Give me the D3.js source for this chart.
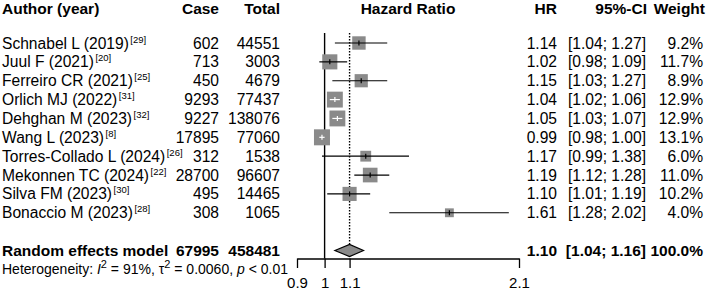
<!DOCTYPE html>
<html><head><meta charset="utf-8">
<script src="https://cdn.jsdelivr.net/npm/d3@7"></script>
<style>body{margin:0;background:#fff}svg{display:block}text{font-family:"Liberation Sans",Arial,sans-serif}</style>
</head><body>
<svg id="c" width="708" height="295"></svg>
<script>
const authors = ["Schnabel L (2019)","Juul F (2021)","Ferreiro CR (2021)","Orlich MJ (2022)","Dehghan M (2023)","Wang L (2023)","Torres-Collado L (2024)","Mekonnen TC (2024)","Silva FM (2023)","Bonaccio M (2023)"];
const refs = ["[29]","[20]","[25]","[31]","[32]","[8]","[26]","[22]","[30]","[28]"];
const cases = [602,713,450,9293,9227,17895,312,28700,495,308];
const totals = [44551,3003,4679,77437,138076,77060,1538,96607,14465,1065];
const hr = [1.14,1.02,1.15,1.04,1.05,0.99,1.17,1.19,1.10,1.61];
const lower = [1.04,0.98,1.03,1.02,1.03,0.98,0.99,1.12,1.01,1.28];
const upper = [1.27,1.09,1.27,1.06,1.07,1.00,1.38,1.28,1.19,2.02];
const weights = [9.2,11.7,8.9,12.9,12.9,13.1,6.0,11.0,10.2,4.0];
const pooled = {label:"Random effects model", cases:67995, total:458481, hr:1.10, lo:1.04, hi:1.16, weight:100.0};
const ticks = [0.9,1,1.1,2.1];

const svg = d3.select("#c");
const x = d3.scaleLog().domain([0.9,2.1]).range([297,519]);
const y = d3.scaleLinear().domain([0,11]).range([43,250.5]);
const side = d3.scaleSqrt().domain([0,13.1]).range([0,16]);
const F = 15.6, FB = 15.5;
const gray = "#8a8a8a";

// header
const hdr = svg.append("g").attr("font-weight","bold").attr("font-size",FB);
const hy = 13.5;
hdr.append("text").attr("x",2).attr("y",hy).text("Author (year)");
hdr.append("text").attr("x",219).attr("y",hy).attr("text-anchor","end").text("Case");
hdr.append("text").attr("x",280).attr("y",hy).attr("text-anchor","end").text("Total");
hdr.append("text").attr("x",(x(0.9)+x(2.1))/2).attr("y",hy).attr("text-anchor","middle").text("Hazard Ratio");
hdr.append("text").attr("x",557).attr("y",hy).attr("text-anchor","end").text("HR");
hdr.append("text").attr("x",647).attr("y",hy).attr("text-anchor","end").text("95%-CI");
hdr.append("text").attr("x",705).attr("y",hy).attr("text-anchor","end").text("Weight");

// reference lines
svg.append("line").attr("x1",x(1)).attr("x2",x(1)).attr("y1",33).attr("y2",258.5).attr("stroke","#000").attr("stroke-width",1.4);
svg.append("line").attr("x1",x(pooled.hr)).attr("x2",x(pooled.hr)).attr("y1",33).attr("y2",y(11)-6).attr("stroke","#000").attr("stroke-width",1.4).attr("stroke-dasharray","1.4,1.6");

const fmt2 = d3.format(".2f");
authors.forEach((a,i)=>{
  const cy = y(i), ty = cy+5.5;
  const t = svg.append("text").attr("x",2).attr("y",ty).attr("font-size",F);
  t.append("tspan").text(a);
  t.append("tspan").attr("font-size",9.5).attr("dx",1.5).attr("dy",-6).text(refs[i]);
  svg.append("text").attr("x",219).attr("y",ty).attr("font-size",F).attr("text-anchor","end").text(cases[i]);
  svg.append("text").attr("x",280).attr("y",ty).attr("font-size",F).attr("text-anchor","end").text(totals[i]);
  svg.append("text").attr("x",557).attr("y",ty).attr("font-size",F).attr("text-anchor","end").text(fmt2(hr[i]));
  svg.append("text").attr("x",646).attr("y",ty).attr("font-size",F).attr("text-anchor","end").text(`[${fmt2(lower[i])}; ${fmt2(upper[i])}]`);
  svg.append("text").attr("x",703).attr("y",ty).attr("font-size",F).attr("text-anchor","end").text(weights[i].toFixed(1)+"%");
  const cx = x(hr[i]), s = side(weights[i]);
  const inside = x(lower[i]) >= cx - s/2 && x(upper[i]) <= cx + s/2;
  svg.append("rect").attr("x",cx-s/2).attr("y",cy-s/2).attr("width",s).attr("height",s).attr("fill",gray);
  const col = inside ? "#fff" : "#000";
  svg.append("line").attr("x1",x(lower[i])).attr("x2",x(upper[i])).attr("y1",cy).attr("y2",cy).attr("stroke",col).attr("stroke-width",1.2);
  svg.append("line").attr("x1",cx).attr("x2",cx).attr("y1",cy-2.5).attr("y2",cy+2.5).attr("stroke",col).attr("stroke-width",1.2);
});

// pooled
const py = y(11);
const pg = svg.append("g").attr("font-weight","bold").attr("font-size",FB);
pg.append("text").attr("x",2).attr("y",py+5.5).text(pooled.label);
pg.append("text").attr("x",219).attr("y",py+5.5).attr("text-anchor","end").text(pooled.cases);
pg.append("text").attr("x",280).attr("y",py+5.5).attr("text-anchor","end").text(pooled.total);
pg.append("text").attr("x",557).attr("y",py+5.5).attr("text-anchor","end").text(fmt2(pooled.hr));
pg.append("text").attr("x",646).attr("y",py+5.5).attr("text-anchor","end").text(`[${fmt2(pooled.lo)}; ${fmt2(pooled.hi)}]`);
pg.append("text").attr("x",703).attr("y",py+5.5).attr("text-anchor","end").text(pooled.weight.toFixed(1)+"%");
svg.append("path").attr("d",`M${x(pooled.lo)},${py}L${x(pooled.hr)},${py-6}L${x(pooled.hi)},${py}L${x(pooled.hr)},${py+6}Z`)
  .attr("fill",gray).attr("stroke","#000").attr("stroke-width",1.2);

// heterogeneity
const het = svg.append("text").attr("x",2).attr("y",y(12)+5).attr("font-size",14);
het.append("tspan").text("Heterogeneity: ");
het.append("tspan").attr("font-style","italic").text("I");
het.append("tspan").attr("font-size",11).attr("dy",-6).text("2");
het.append("tspan").attr("dy",6).text(" = 91%, τ");
het.append("tspan").attr("font-size",11).attr("dy",-6).text("2");
het.append("tspan").attr("dy",6).text(" = 0.0060, ");
het.append("tspan").attr("font-style","italic").text("p");
het.append("tspan").text(" < 0.01");

// axis
const ax = svg.append("g").attr("transform","translate(0,258.5)")
  .call(d3.axisBottom(x).tickValues(ticks).tickFormat(d=>String(d)).tickSize(9.5).tickPadding(9).tickSizeOuter(0));
ax.select(".domain").attr("stroke-width",1.3);
ax.selectAll(".tick line").attr("stroke-width",1.3);
ax.selectAll(".tick text").attr("font-size",15).attr("fill","#000").attr("font-family","Liberation Sans, Arial, sans-serif");
</script>
</body></html>
